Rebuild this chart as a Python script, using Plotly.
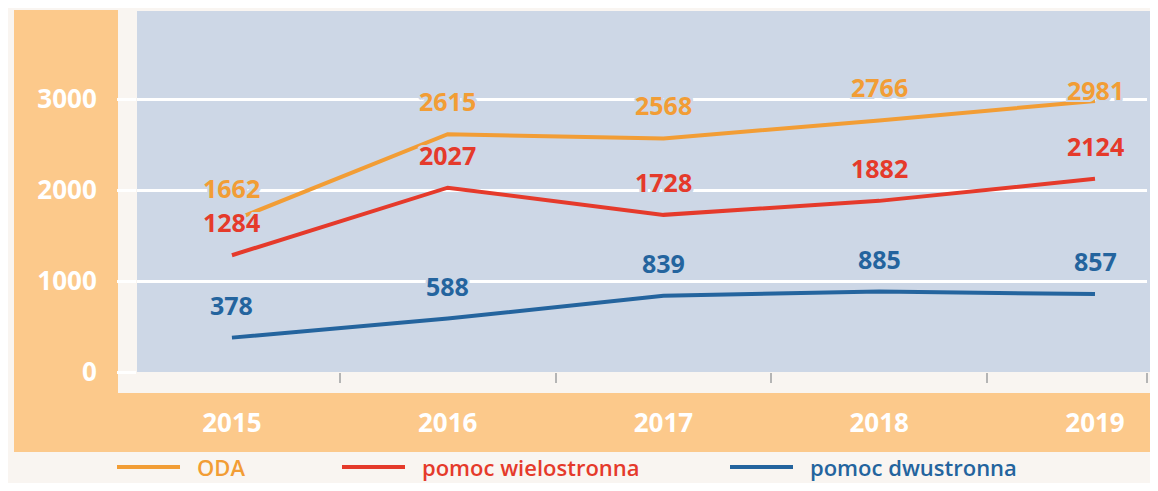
import plotly.graph_objects as go

# --- data ---
years = [2015, 2016, 2017, 2018, 2019]
year_labels = ["2015", "2016", "2017", "2018", "2019"]
series_names = ["ODA", "pomoc wielostronna", "pomoc dwustronna"]
oda = [1662, 2615, 2568, 2766, 2981]
multilateral = [1284, 2027, 1728, 1882, 2124]
bilateral = [378, 588, 839, 885, 857]
y_ticks = [0, 1000, 2000, 3000]

# --- styling ---
# the page body has an 8px margin, so the figure is drawn 8px smaller and
# all reference pixel positions are shifted by that offset
OFF = 8
W, H = 1158 - 2 * OFF, 491 - 2 * OFF
PLOT_L, PLOT_R, PLOT_T, PLOT_B = 137 - OFF, 1147 - OFF, 11 - OFF, 372 - OFF
PAGE_BG = "#f9f5f1"
PLOT_BG = "#cdd7e6"
BAND = "#fcc98b"
FONT = "Open Sans"
colors = {"ODA": "#f29d35", "pomoc wielostronna": "#e53a2b", "pomoc dwustronna": "#24649e"}
values = {"ODA": oda, "pomoc wielostronna": multilateral, "pomoc dwustronna": bilateral}

x_range = [2014.56, 2019.241]
y_range = [0, 3970]


def px_x(p):
    # reference pixel -> paper x
    return (p - OFF - PLOT_L) / (PLOT_R - PLOT_L)


def px_y(p):
    # reference pixel -> paper y
    return (PLOT_B - (p - OFF)) / (PLOT_B - PLOT_T)


halo = ", ".join(
    f"{dx}px {dy}px 0 {PLOT_BG}" for dx, dy in
    [(2, 0), (-2, 0), (0, 2), (0, -2), (2, 2), (-2, -2), (2, -2), (-2, 2)]
)

fig = go.Figure()

for name in series_names:
    fig.add_trace(go.Scatter(
        x=years,
        y=values[name],
        mode="lines",
        name=name,
        line=dict(color=colors[name], width=4),
        showlegend=False,
        hoverinfo="skip",
    ))

# value labels above each point
label_shift = {("ODA", 2019): 11}
for name in series_names:
    for yr, v in zip(years, values[name]):
        fig.add_annotation(
            x=yr, y=v, text=str(v), showarrow=False,
            yshift=label_shift.get((name, yr), 33),
            font=dict(family=FONT, size=25, color=colors[name], weight="bold", shadow=halo),
        )

# orange L-shaped frame + blue extension past the grid
shapes = [
    dict(x0=px_x(14), x1=px_x(118), y0=px_y(452), y1=px_y(10), fillcolor=BAND),
    dict(x0=px_x(14), x1=px_x(1170), y0=px_y(452), y1=px_y(393), fillcolor=BAND),
    dict(x0=1, x1=px_x(1170), y0=0, y1=1, fillcolor=PLOT_BG),
]
for s in shapes:
    fig.add_shape(type="rect", xref="paper", yref="paper", layer="below",
                  line=dict(width=0), **s)

# hand-made legend (long line keys)
legend_x = [117, 342, 730]
legend_y = 467
for name, lx in zip(series_names, legend_x):
    fig.add_shape(type="line", xref="paper", yref="paper",
                  x0=px_x(lx), x1=px_x(lx + 63), y0=px_y(legend_y), y1=px_y(legend_y),
                  line=dict(color=colors[name], width=4))
    fig.add_annotation(
        xref="paper", yref="paper", x=px_x(lx + 78), y=px_y(legend_y),
        xanchor="left", yanchor="middle", text=name, showarrow=False,
        font=dict(family=FONT, size=22, color=colors[name], weight=600),
    )

fig.update_layout(
    width=W, height=H,
    margin=dict(l=PLOT_L, r=W - PLOT_R, t=PLOT_T, b=H - PLOT_B),
    paper_bgcolor=PAGE_BG,
    plot_bgcolor=PLOT_BG,
    showlegend=False,
    font=dict(family=FONT),
)

fig.update_xaxes(
    range=x_range,
    tickmode="array",
    tickvals=years,
    ticktext=year_labels,
    ticks="",
    showgrid=False,
    zeroline=False,
    showline=False,
    ticklabelstandoff=33,
    tickfont=dict(family=FONT, size=26, color="white", weight="bold"),
    minor=dict(
        tickmode="array",
        tickvals=[2015.5, 2016.5, 2017.5, 2018.5, x_range[1]],
        ticks="outside", ticklen=10, tickwidth=1.5, tickcolor="#b5b5b5",
        showgrid=False,
    ),
)

fig.update_yaxes(
    range=y_range,
    tickmode="array",
    tickvals=y_ticks,
    showgrid=True,
    gridcolor="white",
    gridwidth=2.5,
    zeroline=False,
    showline=False,
    ticks="outside",
    ticklen=19,
    tickwidth=2.5,
    tickcolor="white",
    ticklabelstandoff=15,
    tickfont=dict(family=FONT, size=26, color="white", weight="bold"),
)

fig.write_html("out.html")
